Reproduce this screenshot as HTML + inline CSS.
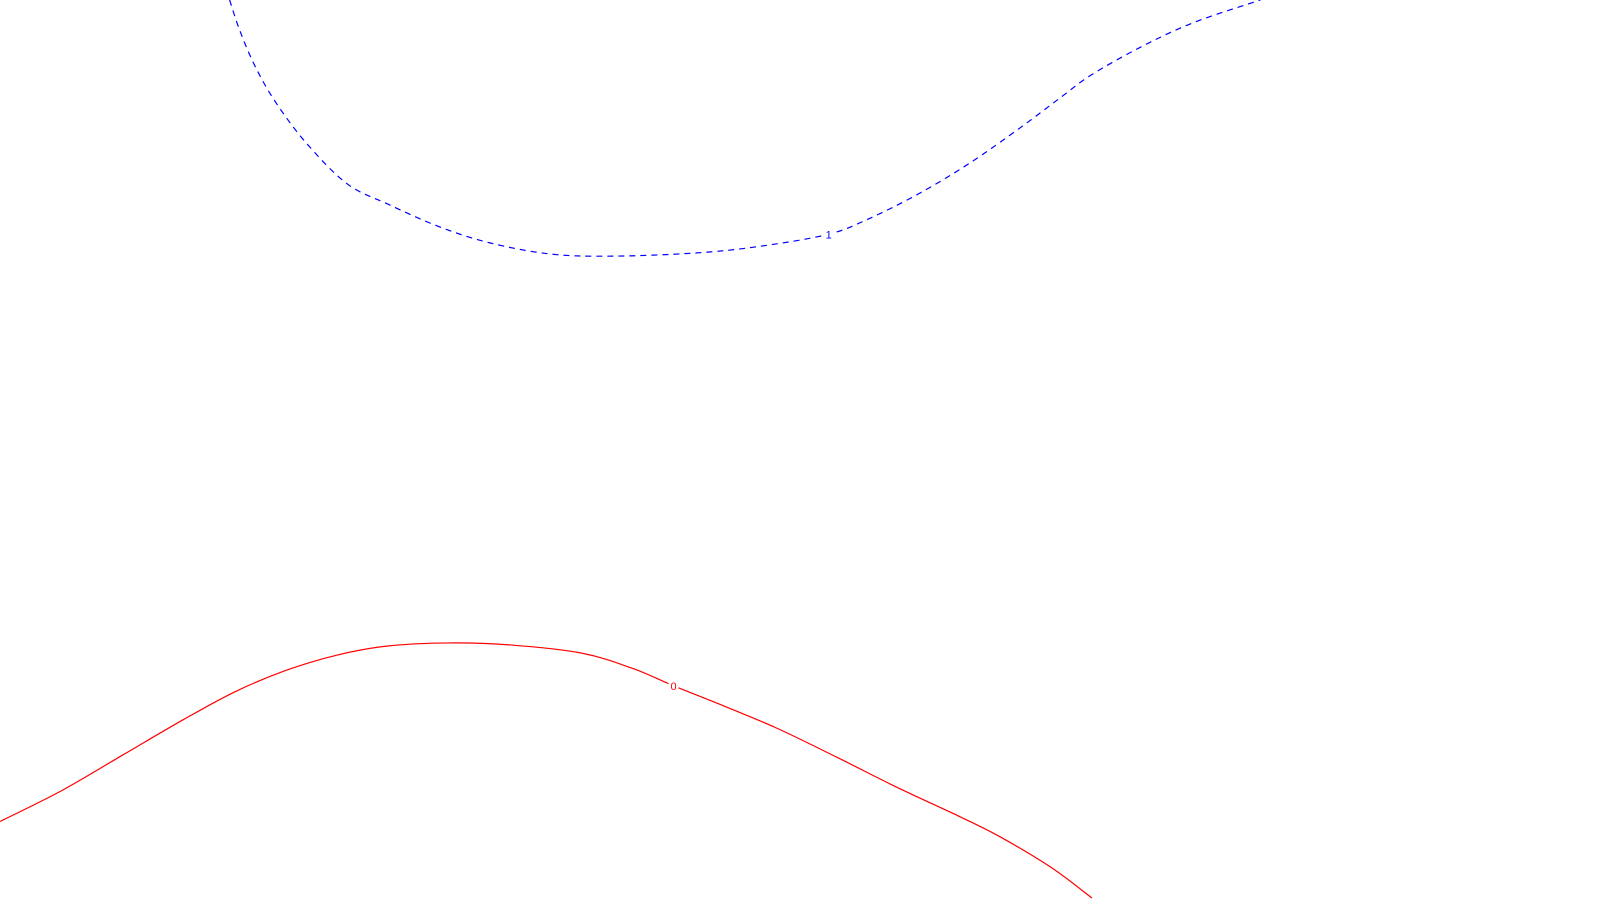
<!DOCTYPE html>
<html><head><meta charset="utf-8"><style>html,body{margin:0;padding:0;background:#fff;width:1600px;height:900px;overflow:hidden}</style></head>
<body>
<svg id="chart" width="1600" height="900" xmlns="http://www.w3.org/2000/svg" style="font-family:'Liberation Sans',sans-serif"></svg>
<script>
const levelNames = ["1", "0"];
const level1X = [225,235,250,270,300,340,380,430,480,540,600,680,740,810,850,900,950,1000,1040,1070,1120,1170,1235];
const level1Y = [0,30,65,100,140,180,200,222,238,249,251,248,242,230,215,190,160,125,95,73,45,22,0];
const level0X = [0,60,120,180,230,280,330,380,440,500,570,620,660,700,760,820,880,940,980,1030,1070];
const level0Y = [805,775,740,705,678,657,642,633,630,632,640,655,672,688,713,742,772,800,820,850,880];
const K = 1.0205;
const xScale = v => v * K;
const yScale = v => v * K;
const svg = document.getElementById('chart');
const NS = 'http://www.w3.org/2000/svg';
function line(xs, ys, color, dash, name) {
  const p = document.createElementNS(NS, 'path');
  let d = '';
  for (let i = 0; i < xs.length; i++) {
    if (i === 0) { d += 'M' + xScale(xs[i]) + ',' + yScale(ys[i]); continue; }
    const x0 = xScale(xs[i-1]), y0 = yScale(ys[i-1]), x1 = xScale(xs[i]), y1 = yScale(ys[i]);
    const xm = xScale(xs[i-2] !== undefined ? xs[i-2] : xs[i-1]), ym = yScale(ys[i-2] !== undefined ? ys[i-2] : ys[i-1]);
    const xn = xScale(xs[i+1] !== undefined ? xs[i+1] : xs[i]), yn = yScale(ys[i+1] !== undefined ? ys[i+1] : ys[i]);
    const c1x = x0 + (x1 - xm) / 6, c1y = y0 + (y1 - ym) / 6, c2x = x1 - (xn - x0) / 6, c2y = y1 - (yn - y0) / 6;
    d += ' C' + c1x + ',' + c1y + ' ' + c2x + ',' + c2y + ' ' + x1 + ',' + y1;
  }
  p.setAttribute('d', d);
  p.setAttribute('fill', 'none');
  p.setAttribute('stroke', color);
  p.setAttribute('stroke-width', '1.2');
  if (dash) p.setAttribute('stroke-dasharray', dash);
  
  
  svg.appendChild(p);
}
function label(x, y, txt, color, name) {
  const bg = document.createElementNS(NS, 'rect');
  bg.setAttribute('x', xScale(x) - 5); bg.setAttribute('y', yScale(y) - 7);
  bg.setAttribute('width', 10); bg.setAttribute('height', 14); bg.setAttribute('fill', '#fff');
  
  
  svg.appendChild(bg);
  const t = document.createElementNS(NS, 'text');
  t.setAttribute('x', xScale(x)); t.setAttribute('y', yScale(y) + 4);
  t.setAttribute('text-anchor', 'middle'); t.setAttribute('font-size', '11'); t.setAttribute('fill', color);
  t.textContent = txt;
  
  
  svg.appendChild(t);
}
line(level1X, level1Y, '#0000ff', '6,5', 'contour-level-1');
line(level0X, level0Y, '#ff0000', null, 'contour-level-0');
label(812, 230, levelNames[0], '#0000ff', 'contour-label-1');
label(660, 672, levelNames[1], '#ff0000', 'contour-label-0');
</script>
</body></html>
